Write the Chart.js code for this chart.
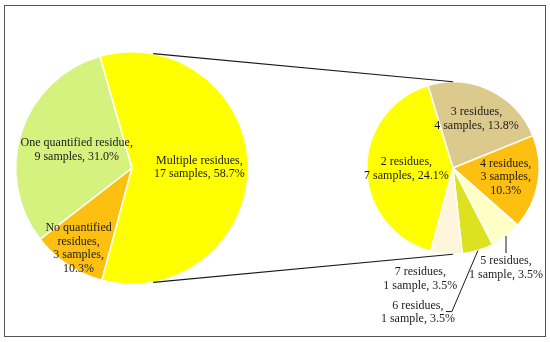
<!DOCTYPE html>
<html>
<head>
<meta charset="utf-8">
<script src="https://cdn.jsdelivr.net/npm/chart.js@4"></script>
<style>
    html, body { margin: 0; padding: 0; background: #fff; }
    #wrap { position: relative; width: 550px; height: 342px; overflow: hidden; }
    #wrap canvas { position: absolute; left: 0; top: 0; }
    #frame { position: absolute; left: 4px; top: 5px; width: 542px; height: 332px; box-sizing: border-box; border: 1px solid #555; }
</style>
</head>
<body>
<div id="wrap">
    <canvas id="leftPie" width="550" height="342"></canvas>
    <canvas id="rightPie" width="550" height="342"></canvas>
    <div id="frame"></div>
</div>
<script>
// main pie
const mainCategories = ['No quantified residues', 'One quantified residue', 'Multiple residues'];
const mainSamples = [3, 9, 17];
const mainPercents = ['10.3%', '31.0%', '58.7%'];

// breakdown of "Multiple residues"
const splitCategories = ['2 residues', '3 residues', '4 residues', '5 residues', '6 residues', '7 residues'];
const splitSamples = [7, 4, 3, 1, 1, 1];
const splitPercents = ['24.1%', '13.8%', '10.3%', '3.5%', '3.5%', '3.5%'];

const mainColors = ['#FEC010', '#D6F27E', '#FFFF00'];
const splitColors = ['#FFFF00', '#DCC98C', '#FEC010', '#FFFFC6', '#DCE220', '#FFF5DA'];

const FONT = '12px "Liberation Serif", "Times New Roman", serif';
const LINE_H = 13.5;

function labelText(name, n, pct) {
    return `${name}, ${n} ${n === 1 ? 'sample' : 'samples'}, ${pct}`;
}

// wrap on ", " chunks first, break a chunk on words only if it is too wide
function wrapText(ctx, text, maxWidth) {
    const chunks = text.split(', ').map((c, i, a) => i < a.length - 1 ? c + ',' : c);
    const pieces = [];
    chunks.forEach(c => {
        if (ctx.measureText(c).width <= maxWidth) { pieces.push(c); return; }
        let cur = '';
        c.split(' ').forEach(w => {
            const test = cur ? cur + ' ' + w : w;
            if (cur && ctx.measureText(test).width > maxWidth) { pieces.push(cur); cur = w; }
            else cur = test;
        });
        if (cur) pieces.push(cur);
    });
    const lines = [];
    let line = '';
    pieces.forEach(p => {
        const test = line ? line + ' ' + p : p;
        if (line && ctx.measureText(test).width > maxWidth) { lines.push(line); line = p; }
        else line = test;
    });
    if (line) lines.push(line);
    return lines;
}

function drawBlock(ctx, lines, x, y) {
    const top = y - (lines.length - 1) * LINE_H / 2;
    lines.forEach((l, i) => ctx.fillText(l, x, top + i * LINE_H));
}

function edgePoint(arc, f) {
    const mid = (arc.startAngle + arc.endAngle) / 2;
    const r = arc.outerRadius * f;
    return { x: arc.x + Math.cos(mid) * r, y: arc.y + Math.sin(mid) * r };
}

// label placement styles: inside labels sit at a fraction of the radius,
// outside labels hang off the rim with an optional leader line
const mainLabelStyle = [
    { f: 0.83, w: 70 },
    { f: 0.50, w: 116 },
    { f: 0.58, w: 100 }
];
const splitLabelStyle = [
    { f: 0.54, w: 92 },
    { f: 0.63, w: 92 },
    { f: 0.62, w: 70 },
    { out: true, text: [0, 32], leader: [[0, 17]], w: 80 },
    { out: true, text: [-60, 62], leader: [[-26, 61], [-32, 61]], w: 80 },
    { out: true, text: [-26, 25], leader: [], w: 80 }
];

function labelPlugin(categories, samples, percents, styles) {
    return {
        id: 'sliceLabels',
        afterDraw(chart) {
            const ctx = chart.ctx;
            const arcs = chart.getDatasetMeta(0).data;
            ctx.save();
            ctx.font = FONT;
            ctx.fillStyle = '#1b1b1b';
            ctx.textAlign = 'center';
            ctx.textBaseline = 'middle';
            arcs.forEach((arc, i) => {
                const st = styles[i];
                const lines = wrapText(ctx, labelText(categories[i], samples[i], percents[i]), st.w);
                if (!st.out) {
                    const p = edgePoint(arc, st.f);
                    drawBlock(ctx, lines, p.x, p.y);
                    return;
                }
                const e = edgePoint(arc, 1);
                if (st.leader.length) {
                    ctx.strokeStyle = '#1b1b1b';
                    ctx.lineWidth = 1;
                    ctx.beginPath();
                    ctx.moveTo(e.x, e.y);
                    st.leader.forEach(d => ctx.lineTo(e.x + d[0], e.y + d[1]));
                    ctx.stroke();
                }
                drawBlock(ctx, lines, e.x + st.text[0], e.y + st.text[1]);
            });
            ctx.restore();
        }
    };
}

const pieOptions = (padding) => ({
    responsive: false,
    animation: false,
    layout: { padding: padding },
    plugins: { legend: { display: false }, tooltip: { enabled: false } }
});

const mainChart = new Chart(document.getElementById('leftPie').getContext('2d'), {
    type: 'pie',
    data: {
        labels: mainCategories,
        datasets: [{
            data: mainSamples,
            backgroundColor: mainColors,
            borderColor: '#ffffff',
            borderWidth: 1.5
        }]
    },
    options: Object.assign(pieOptions({ left: 15, top: 51, right: 301, bottom: 57 }), { rotation: 195 }),
    plugins: [labelPlugin(mainCategories, mainSamples, mainPercents, mainLabelStyle)]
});

// connector lines from the main pie to the top and bottom of the split pie
const connectorPlugin = {
    id: 'connectors',
    afterDraw(chart) {
        const a = mainChart.getDatasetMeta(0).data[0];
        const b = chart.getDatasetMeta(0).data[0];
        const tilt = 10.5 * Math.PI / 180;
        const ax = a.x + Math.sin(tilt) * a.outerRadius;
        const ay = Math.cos(tilt) * a.outerRadius;
        const ctx = chart.ctx;
        ctx.save();
        ctx.strokeStyle = '#1b1b1b';
        ctx.lineWidth = 1.2;
        ctx.beginPath();
        ctx.moveTo(ax, a.y - ay);
        ctx.lineTo(b.x, b.y - b.outerRadius);
        ctx.moveTo(ax, a.y + ay);
        ctx.lineTo(b.x, b.y + b.outerRadius);
        ctx.stroke();
        ctx.restore();
    }
};

new Chart(document.getElementById('rightPie').getContext('2d'), {
    type: 'pie',
    data: {
        labels: splitCategories,
        datasets: [{
            data: splitSamples,
            backgroundColor: splitColors,
            borderColor: '#ffffff',
            borderWidth: 1.5
        }]
    },
    options: Object.assign(pieOptions({ left: 366, top: 81, right: 10, bottom: 87 }), { rotation: 195 }),
    plugins: [connectorPlugin, labelPlugin(splitCategories, splitSamples, splitPercents, splitLabelStyle)]
});
</script>
</body>
</html>
